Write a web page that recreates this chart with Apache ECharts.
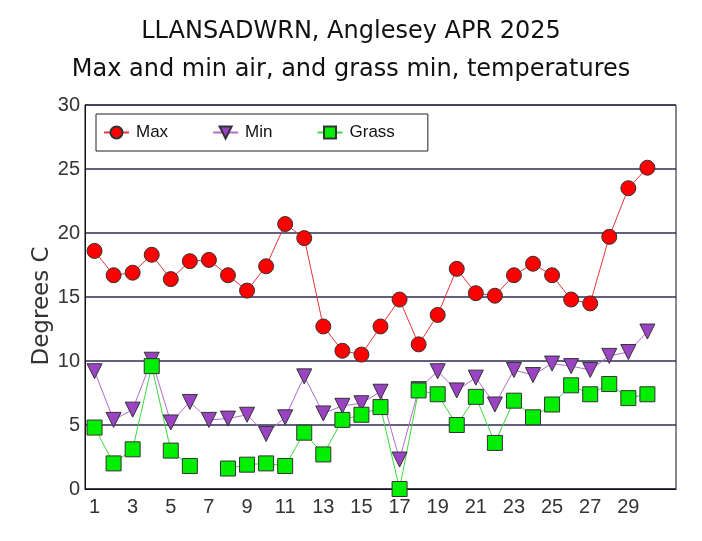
<!DOCTYPE html>
<html>
<head>
<meta charset="utf-8">
<script src="https://cdn.jsdelivr.net/npm/echarts@6/dist/echarts.min.js"></script>
<style>
html,body{margin:0;padding:0;background:#fff;}
#chart{width:702px;height:541px;}
</style>
</head>
<body>
<div id="chart"></div>
<script>
var days = [1,2,3,4,5,6,7,8,9,10,11,12,13,14,15,16,17,18,19,20,21,22,23,24,25,26,27,28,29,30];
var maxTemps = [18.6,16.7,16.9,18.3,16.4,17.8,17.9,16.7,15.5,17.4,20.7,19.6,12.7,10.8,10.5,12.7,14.8,11.3,13.6,17.2,15.3,15.1,16.7,17.6,16.7,14.8,14.5,19.7,23.5,25.1];
var minTemps = [9.2,5.4,6.2,10.1,5.2,6.8,5.4,5.5,5.8,4.3,5.6,8.8,5.9,6.5,6.7,7.6,2.3,7.8,9.2,7.7,8.7,6.6,9.3,8.9,9.8,9.6,9.3,10.4,10.7,12.3];
var grassTemps = [4.8,2.0,3.1,9.6,3.0,1.8,null,1.6,1.9,2.0,1.8,4.4,2.7,5.4,5.8,6.4,0.0,7.7,7.4,5.0,7.2,3.6,6.9,5.6,6.6,8.1,7.4,8.2,7.1,7.4];
var xTickLabels = [1,3,5,7,9,11,13,15,17,19,21,23,25,27,29];
var yTicks = [0,5,10,15,20,25,30];
var titleLine1 = 'LLANSADWRN, Anglesey APR 2025';
var titleLine2 = 'Max and min air, and grass min, temperatures';
var yAxisTitle = 'Degrees C';

function pairs(vals){ return days.map(function(d,i){ return [d, vals[i]]; }); }

var chart = echarts.init(document.getElementById('chart'));
var font = 'DejaVu Sans';
var labelFont = 'Liberation Sans';
chart.setOption({
  animation: false,
  backgroundColor: '#fff',
  title: [
    {text: titleLine1, left: 'center', top: 15, textStyle: {fontFamily: font, fontSize: 24, fontWeight: 'normal', color: '#111'}},
    {text: titleLine2, left: 'center', top: 53, textStyle: {fontFamily: font, fontSize: 24, fontWeight: 'normal', color: '#111'}}
  ],
  graphic: [
    {type: 'text', x: 42, y: 306, rotation: Math.PI / 2,
     style: {text: yAxisTitle, fontFamily: font, fontSize: 23, fill: '#333', align: 'center', verticalAlign: 'middle'}}
  ],
  legend: {
    left: 96, top: 114,
    orient: 'horizontal',
    backgroundColor: '#fff',
    borderColor: '#222', borderWidth: 1,
    padding: [10, 33, 10, 7],
    itemGap: 44,
    itemWidth: 25, itemHeight: 15,
    textStyle: {fontFamily: labelFont, fontSize: 17, color: '#111', padding: [0, 0, 0, 2]},
    data: ['Max','Min','Grass']
  },
  grid: {left: 85, right: 26, top: 105, bottom: 52, show: true, borderColor: '#111', borderWidth: 1},
  xAxis: {
    type: 'value', min: 0.5, max: 31.5,
    axisLine: {show: true, onZero: false, lineStyle: {color: '#111'}},
    axisTick: {show: false},
    splitLine: {show: false},
    axisLabel: {customValues: xTickLabels, margin: 8, fontFamily: labelFont, fontSize: 20, color: '#333'}
  },
  yAxis: {
    type: 'value', min: 0, max: 30, interval: 5,
    axisLine: {show: true, lineStyle: {color: '#111'}},
    axisTick: {show: false},
    splitLine: {show: true, lineStyle: {color: '#2c2c55', width: 1.5}},
    axisLabel: {customValues: yTicks, margin: 5, fontFamily: labelFont, fontSize: 20, color: '#333'}
  },
  series: [
    {name: 'Max', type: 'line', data: pairs(maxTemps), symbol: 'circle', symbolSize: 15,
     lineStyle: {color: '#e8323c', width: 1},
     itemStyle: {color: '#ff0000', borderColor: '#333', borderWidth: 1}},
    {name: 'Min', type: 'line', data: pairs(minTemps), symbol: 'triangle', symbolRotate: 180, symbolSize: 15,
     lineStyle: {color: '#b46cd0', width: 1},
     itemStyle: {color: '#9a44c4', borderColor: '#333', borderWidth: 1}},
    {name: 'Grass', type: 'line', data: pairs(grassTemps), symbol: 'rect', symbolSize: 15, connectNulls: false,
     lineStyle: {color: '#3cd83c', width: 1},
     itemStyle: {color: '#00ee00', borderColor: '#333', borderWidth: 1}}
  ]
});
</script>
</body>
</html>
